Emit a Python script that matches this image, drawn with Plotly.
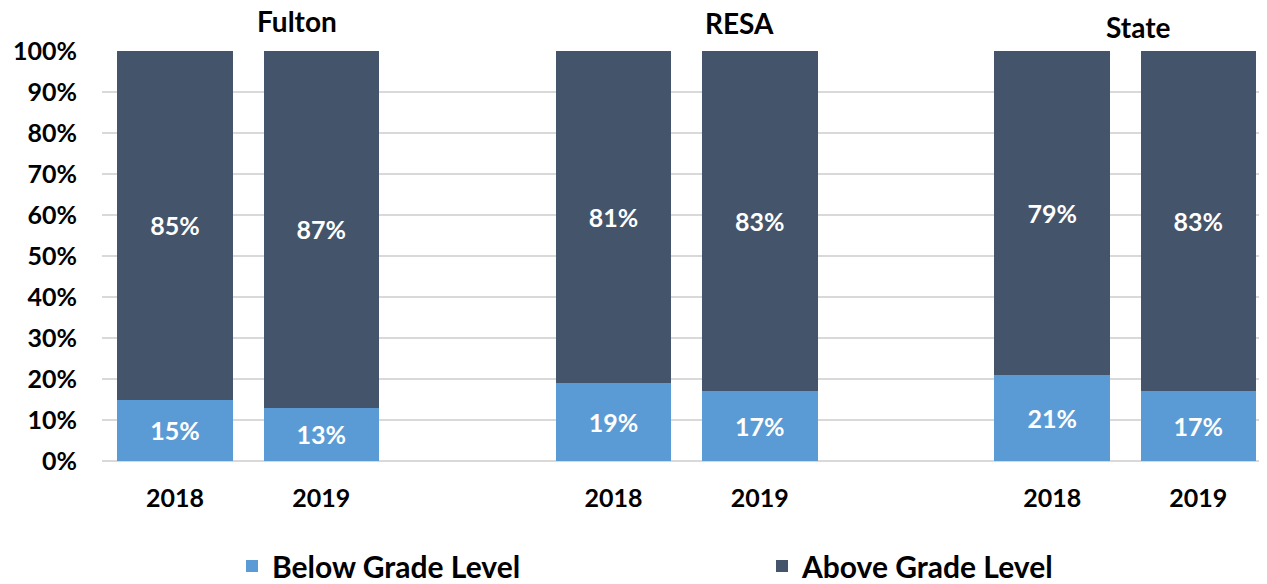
import plotly.graph_objects as go

groups = ["Fulton", "RESA", "State"]
years = ["2018", "2019"]
below = [15, 13, 19, 17, 21, 17]
above = [85, 87, 81, 83, 79, 83]
positions = [0, 1, 3, 4, 6, 7]
tick_labels = ["2018", "2019", "2018", "2019", "2018", "2019"]
y_ticks = [0, 10, 20, 30, 40, 50, 60, 70, 80, 90, 100]

FONT = "Lato"
DARK = "#44546A"
LIGHT = "#5B9BD5"
# page body has an 8px default margin, so the figure is drawn 8px in
OFF = 8
W, H = 1267 - OFF, 584 - OFF
L, T = 102 - OFF, 51 - OFF
PW = W - L

fig = go.Figure()
fig.add_trace(go.Bar(
    x=positions, y=below, name="Below Grade Level", legend="legend",
    marker=dict(color=LIGHT, line=dict(width=0)),
    width=0.79,
    text=[f"{v}%" for v in below], textposition="inside",
    insidetextanchor="middle", textangle=0, constraintext="none",
    textfont=dict(family=FONT, size=25, color="white", weight="bold"),
))
fig.add_trace(go.Bar(
    x=positions, y=above, name="Above Grade Level", legend="legend2",
    marker=dict(color=DARK, line=dict(width=0)),
    width=0.79,
    text=[f"{v}%" for v in above], textposition="inside",
    insidetextanchor="middle", textangle=0, constraintext="none",
    textfont=dict(family=FONT, size=25, color="white", weight="bold"),
))

# group titles (centres, in page pixels)
title_pos = [(297, 21), (739, 23), (1138, 27)]
for g, (xp, yp) in zip(groups, title_pos):
    fig.add_annotation(x=(xp - OFF - L) / PW, xref="paper",
                       y=1, yref="paper", yshift=T - (yp - OFF),
                       text=f"<b>{g}</b>", showarrow=False,
                       font=dict(family=FONT, size=28, color="black"),
                       xanchor="center", yanchor="middle")

legend_common = dict(orientation="h", xref="container", yref="container",
                     yanchor="middle", xanchor="left",
                     font=dict(family=FONT, size=30, color="black", weight="bold"),
                     bgcolor="rgba(0,0,0,0)")
leg_y = 1 - (566 - OFF) / H

fig.update_layout(
    width=W, height=H,
    margin=dict(l=L, r=0, t=T, b=H - T - 410, autoexpand=False),
    barmode="stack",
    plot_bgcolor="white", paper_bgcolor="white",
    font=dict(family=FONT, color="black"),
    xaxis=dict(range=[-0.5, 7.47], tickvals=positions, ticktext=tick_labels,
               tickfont=dict(family=FONT, size=25, color="black", weight="bold"),
               showgrid=False, zeroline=False, showline=False,
               ticks="", ticklabelstandoff=20),
    yaxis=dict(range=[0, 100], tickvals=y_ticks,
               ticktext=[f"{v}%" for v in y_ticks],
               tickfont=dict(family=FONT, size=25, color="black", weight="bold"),
               showgrid=True, gridcolor="#D9D9D9", gridwidth=1.5,
               zeroline=True, zerolinecolor="#D9D9D9", zerolinewidth=1.5,
               showline=False, ticks="", ticklabelstandoff=24),
    showlegend=True,
    legend=dict(x=(273 - 41 - OFF) / W, y=leg_y, **legend_common),
    legend2=dict(x=(803 - 41 - OFF) / W, y=leg_y, **legend_common),
)

fig.write_html("out.html")
